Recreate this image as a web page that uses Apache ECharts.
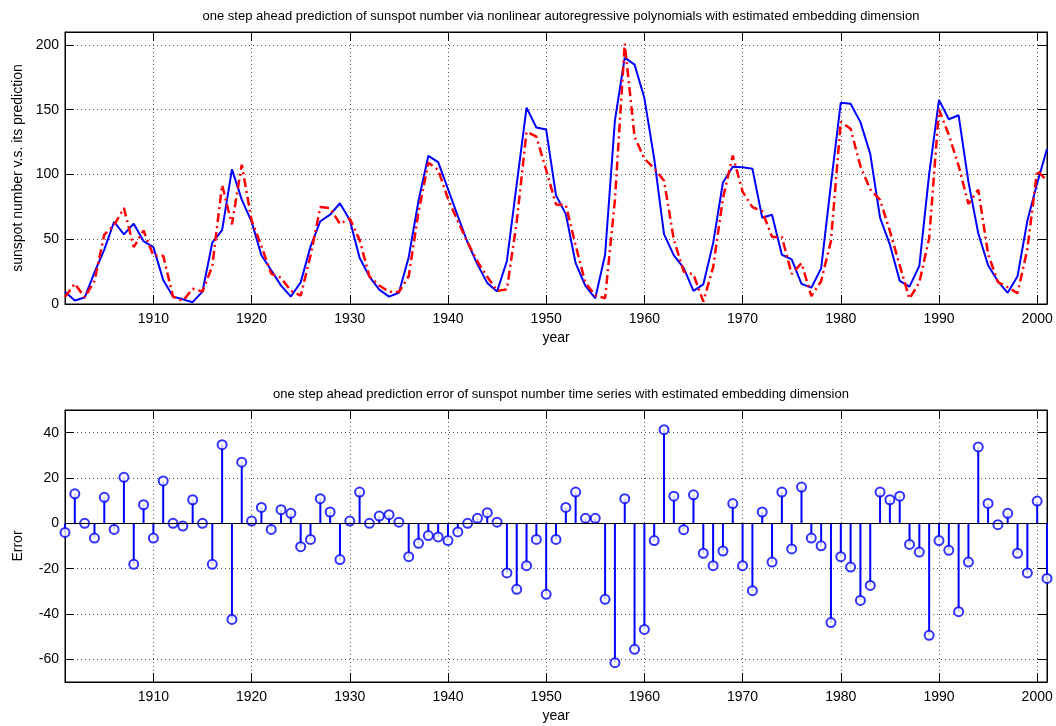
<!DOCTYPE html>
<html>
<head>
<meta charset="utf-8">
<title>sunspot prediction</title>
<script src="https://cdn.jsdelivr.net/npm/echarts@6/dist/echarts.min.js"></script>
<style>
  html, body { margin: 0; padding: 0; background: #fff; }
  #chart { width: 1056px; height: 726px; }
</style>
</head>
<body>
<div id="chart"></div>
<script>
const years = [
  1901, 1902, 1903, 1904, 1905, 1906, 1907, 1908, 1909, 1910,
  1911, 1912, 1913, 1914, 1915, 1916, 1917, 1918, 1919, 1920,
  1921, 1922, 1923, 1924, 1925, 1926, 1927, 1928, 1929, 1930,
  1931, 1932, 1933, 1934, 1935, 1936, 1937, 1938, 1939, 1940,
  1941, 1942, 1943, 1944, 1945, 1946, 1947, 1948, 1949, 1950,
  1951, 1952, 1953, 1954, 1955, 1956, 1957, 1958, 1959, 1960,
  1961, 1962, 1963, 1964, 1965, 1966, 1967, 1968, 1969, 1970,
  1971, 1972, 1973, 1974, 1975, 1976, 1977, 1978, 1979, 1980,
  1981, 1982, 1983, 1984, 1985, 1986, 1987, 1988, 1989, 1990,
  1991, 1992, 1993, 1994, 1995, 1996, 1997, 1998, 1999, 2000,
  2001
]

// solid blue line
const sunspot = [
  9.5, 2.7, 5.0, 24.4, 42.0, 63.5, 53.8, 62.0, 48.5, 43.9,
  18.6, 5.7, 3.6, 1.4, 9.6, 47.4, 57.1, 103.9, 80.6, 63.6,
  37.6, 26.1, 14.2, 5.8, 16.7, 44.3, 63.9, 69.0, 77.8, 64.9,
  35.7, 21.2, 11.1, 5.7, 8.7, 36.1, 79.7, 114.4, 109.6, 88.8,
  67.8, 47.5, 30.6, 16.3, 9.6, 33.2, 92.6, 151.6, 136.3, 134.7,
  83.9, 69.4, 31.5, 13.9, 4.4, 38.0, 141.7, 190.2, 184.8, 159.0,
  112.3, 53.9, 37.6, 27.9, 10.2, 15.1, 47.0, 93.8, 105.9, 105.5,
  104.5, 66.6, 68.9, 38.0, 34.5, 15.5, 12.6, 27.5, 92.5, 155.4,
  154.6, 140.4, 115.9, 66.6, 45.9, 17.9, 13.4, 29.4, 100.2, 157.6,
  142.6, 145.7, 94.3, 54.6, 29.9, 17.5, 8.6, 21.5, 64.3, 93.3,
  119.6
]

// red dash-dot line
const prediction = [
  5.5, 15.7, 5.0, 17.9, 53.5, 60.8, 74.1, 43.9, 56.7, 37.4,
  37.3, 5.7, 2.4, 11.8, 9.6, 29.3, 91.8, 61.5, 107.6, 64.6,
  44.6, 23.4, 20.2, 10.2, 6.4, 37.2, 74.8, 74.0, 61.8, 65.9,
  49.5, 21.2, 14.3, 9.5, 9.2, 21.4, 70.9, 109.0, 103.6, 81.2,
  64.0, 47.5, 32.8, 21.0, 10.1, 11.3, 63.5, 132.9, 129.2, 103.4,
  76.8, 76.4, 45.3, 16.1, 6.6, 4.5, 80.2, 201.1, 129.2, 112.2,
  104.7, 95.2, 49.6, 25.1, 22.8, 1.9, 28.3, 81.6, 114.6, 86.8,
  74.8, 71.6, 51.8, 51.8, 23.2, 31.5, 6.1, 17.6, 48.7, 140.7,
  135.3, 106.4, 88.5, 80.4, 56.3, 29.9, 4.1, 16.7, 50.8, 150.0,
  130.7, 106.7, 77.2, 88.3, 38.7, 16.9, 13.0, 8.3, 42.4, 103.1,
  95.3
]

// stem plot
const predError = [
  -4, 13, 0, -6.5, 11.5, -2.7, 20.3, -18.1, 8.2, -6.5,
  18.7, 0, -1.2, 10.4, 0, -18.1, 34.7, -42.4, 27, 1,
  7, -2.7, 6, 4.4, -10.3, -7.1, 10.9, 5, -16, 1,
  13.8, 0, 3.2, 3.8, 0.5, -14.7, -8.8, -5.4, -6, -7.6,
  -3.8, 0, 2.2, 4.7, 0.5, -21.9, -29.1, -18.7, -7.1, -31.3,
  -7.1, 7, 13.8, 2.2, 2.2, -33.5, -61.5, 10.9, -55.6, -46.8,
  -7.6, 41.3, 12, -2.8, 12.6, -13.2, -18.7, -12.2, 8.7, -18.7,
  -29.7, 5, -17.1, 13.8, -11.3, 16, -6.5, -9.9, -43.8, -14.7,
  -19.3, -34, -27.4, 13.8, 10.4, 12, -9.3, -12.7, -49.4, -7.6,
  -11.9, -39, -17.1, 33.7, 8.8, -0.6, 4.4, -13.2, -21.9, 9.8,
  -24.3
]

const yearTicks = [1910, 1920, 1930, 1940, 1950, 1960, 1970, 1980, 1990, 2000]
const topTicks = [0, 50, 100, 150, 200]
const errTicks = [-60, -40, -20, 0, 20, 40]

const font = 'Liberation Sans, Arial, sans-serif'
const dotted = { color: '#555', width: 1, type: [1, 3] }

function pairs(ys) {
  return years.map((y, i) => [y, ys[i]])
}

function xAxisFor(grid, pos, withLabel) {
  return {
    type: 'value', gridIndex: grid, position: pos,
    min: 1901, max: 2001,
    axisLine: { show: true, onZero: false, lineStyle: { color: '#000', width: 1 } },
    axisTick: { show: true, inside: true, length: 9, customValues: yearTicks, lineStyle: { color: '#000' } },
    axisLabel: {
      show: withLabel, customValues: yearTicks, margin: 8, color: '#000', fontSize: 14, fontFamily: font,
      formatter: v => String(v)
    },
    splitLine: { show: withLabel, lineStyle: dotted },
    name: withLabel ? 'year' : '', nameLocation: 'middle', nameGap: 27,
    nameTextStyle: { color: '#000', fontSize: 14, fontFamily: font }
  }
}

function yAxisFor(grid, pos, withLabel, min, max, ticks, name) {
  return {
    type: 'value', gridIndex: grid, position: pos,
    min: min, max: max,
    axisLine: { show: true, onZero: false, lineStyle: { color: '#000', width: 1 } },
    axisTick: { show: true, inside: true, length: 9, customValues: ticks, lineStyle: { color: '#000' } },
    axisLabel: { show: withLabel, customValues: ticks, margin: 6, color: '#000', fontSize: 14, fontFamily: font },
    splitLine: { show: withLabel, lineStyle: dotted },
    name: withLabel ? name : '', nameLocation: 'middle', nameGap: 40, nameRotate: 90,
    nameTextStyle: { color: '#000', fontSize: 14, fontFamily: font }
  }
}

const chart = echarts.init(document.getElementById('chart'), null, { renderer: 'canvas' })

const option = {
  backgroundColor: '#fff',
  animation: false,
  title: [
    {
      text: 'one step ahead prediction of sunspot number via nonlinear autoregressive polynomials with estimated embedding dimension',
      left: 556, top: 5, textAlign: 'center',
      textStyle: { fontSize: 13, fontWeight: 'normal', color: '#000', fontFamily: font }
    },
    {
      text: 'one step ahead prediction error of sunspot number time series with estimated embedding dimension',
      left: 556, top: 383, textAlign: 'center',
      textStyle: { fontSize: 13, fontWeight: 'normal', color: '#000', fontFamily: font }
    }
  ],
  grid: [
    { left: 65, right: 9, top: 32, height: 272, show: true, borderColor: '#000', borderWidth: 1 },
    { left: 65, right: 9, top: 410, height: 272, show: true, borderColor: '#000', borderWidth: 1 }
  ],
  xAxis: [
    xAxisFor(0, 'bottom', true),
    xAxisFor(0, 'top', false),
    xAxisFor(1, 'bottom', true),
    xAxisFor(1, 'top', false)
  ],
  yAxis: [
    yAxisFor(0, 'left', true, 0, 210, topTicks, 'sunspot number v.s. its prediction'),
    yAxisFor(0, 'right', false, 0, 210, topTicks, ''),
    yAxisFor(1, 'left', true, -70, 50, errTicks, 'Error'),
    yAxisFor(1, 'right', false, -70, 50, errTicks, '')
  ],
  series: [
    {
      name: 'sunspot', type: 'line', xAxisIndex: 0, yAxisIndex: 0,
      data: pairs(sunspot), showSymbol: false,
      lineStyle: { color: '#0000ff', width: 2 }
    },
    {
      name: 'prediction', type: 'line', xAxisIndex: 0, yAxisIndex: 0,
      data: pairs(prediction), showSymbol: false,
      lineStyle: { color: '#ff0000', width: 2.5, type: [9, 4, 2, 4] }
    },
    {
      name: 'error stems', type: 'bar', xAxisIndex: 2, yAxisIndex: 2,
      data: pairs(predError), barWidth: 2,
      itemStyle: { color: '#0000ff' },
      markLine: {
        silent: true, symbol: 'none', label: { show: false },
        lineStyle: { color: '#000', width: 1, type: 'solid' },
        data: [{ yAxis: 0 }]
      }
    },
    {
      name: 'error', type: 'scatter', xAxisIndex: 2, yAxisIndex: 2,
      data: pairs(predError), symbol: 'emptyCircle', symbolSize: 9,
      itemStyle: { color: '#0000ff', borderWidth: 2 }
    }
  ]
}

chart.setOption(option)
</script>
</body>
</html>
